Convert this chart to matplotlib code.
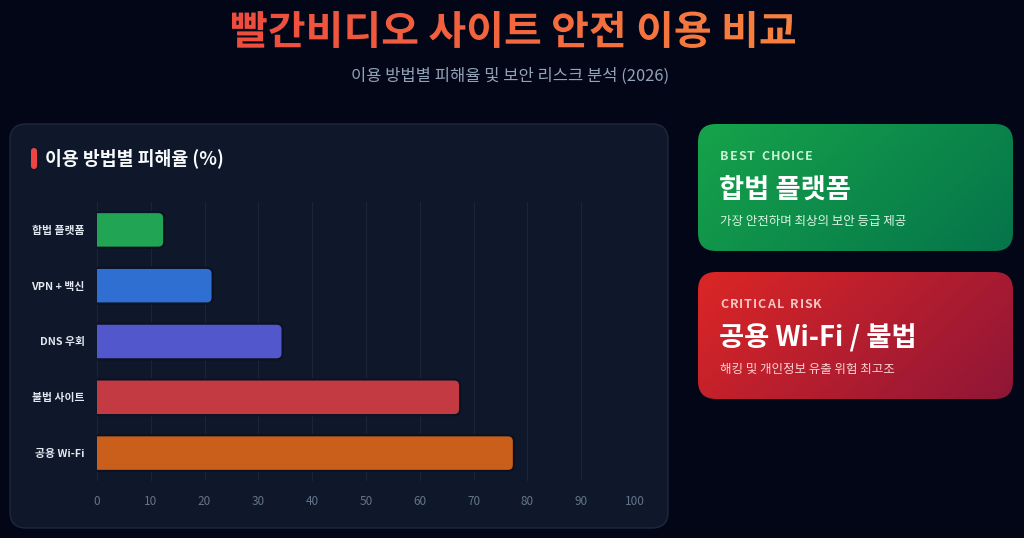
"""빨간비디오 사이트 안전 이용 비교 - dark dashboard recreation."""
import matplotlib
matplotlib.use('Agg')
import matplotlib.pyplot as plt
import numpy as np
from matplotlib.patches import FancyBboxPatch, PathPatch
from matplotlib.textpath import TextPath
from matplotlib.font_manager import FontProperties
from matplotlib.colors import LinearSegmentedColormap
from matplotlib.transforms import Affine2D

plt.rcParams['font.family'] = ['Noto Sans CJK KR', 'DejaVu Sans']

# Data
methods = ['합법 플랫폼', 'VPN + 백신', 'DNS 우회', '불법 사이트', '공용 Wi-Fi']
damage_rate = [12.5, 21.5, 34.5, 67.5, 77.5]
bar_colors = ['#21a453', '#2f6fd2', '#5257cc', '#c43a43', '#c95f1a']
x_ticks = [0, 10, 20, 30, 40, 50, 60, 70, 80, 90, 100]

title = '빨간비디오 사이트 안전 이용 비교'
subtitle = '이용 방법별 피해율 및 보안 리스크 분석 (2026)'
panel_title = '이용 방법별 피해율 (%)'
cards = [
    ('BEST CHOICE', '합법 플랫폼', '가장 안전하며 최상의 보안 등급 제공',
     ('#16a34a', '#05744a'), '#c8f0d4', '#dcf5e4'),
    ('CRITICAL RISK', '공용 Wi-Fi / 불법', '해킹 및 개인정보 유출 위험 최고조',
     ('#dc2626', '#8f1637'), '#f8c4c4', '#fbd3d3'),
]

W, H = 1024, 538
BG = '#020617'
PANEL = '#0f172a'

fig = plt.figure(figsize=(W / 100, H / 100), dpi=100, facecolor=BG)
bg = fig.add_axes([0, 0, 1, 1])
bg.set_xlim(0, W)
bg.set_ylim(H, 0)
bg.axis('off')


def gradient_fill(ax, clip, x0, y0, x1, y1, c0, c1, angle=True):
    cmap = LinearSegmentedColormap.from_list('g', [c0, c1])
    xx, yy = np.meshgrid(np.linspace(0, 1, 200), np.linspace(0, 1, 100))
    z = (xx * 0.7 + yy * 0.3) if angle else xx
    im = ax.imshow(z, cmap=cmap, extent=(x0, x1, y1, y0), origin='upper',
                   aspect='auto', zorder=2, interpolation='bilinear')
    im.set_clip_path(clip)


def spaced_text(ax, x, y, s, size_pt, color, spacing=1.6):
    # letter-spaced label, one glyph at a time (x, y in pixels)
    fp_b = FontProperties(family='Noto Sans CJK KR', weight='bold')
    size_px = size_pt * 100 / 72
    for ch in s:
        ax.text(x, y, ch, ha='left', va='center', fontsize=size_pt,
                fontweight='bold', color=color, zorder=3)
        if ch == ' ':
            adv = size_px * 0.26
        else:
            adv = TextPath((0, 0), ch, size=size_px, prop=fp_b).get_extents().x1
        x += adv + spacing


# Title with gradient (condensed heavy text)
fp = FontProperties(family='Noto Sans CJK KR', weight='black')
tp = TextPath((0, 0), title, size=100, prop=fp)
ext = tp.get_extents()
tx0, tx1, ty0, ty1 = 232, 795, 11, 48
sx = (tx1 - tx0) / ext.width
sy = (ty1 - ty0) / ext.height
tr = Affine2D().translate(-ext.x0, -ext.y1).scale(sx, -sy).translate(tx0, ty0)
tpath = tr.transform_path(tp)
tpatch = PathPatch(tpath, facecolor='none', edgecolor='none', transform=bg.transData)
bg.add_patch(tpatch)
gradient_fill(bg, tpatch, tx0, ty0, tx1, ty1, '#ef4c3e', '#f8823f', angle=False)

bg.text(510, 76, subtitle, ha='center', va='center', fontsize=11.9, color='#94a3b8')

# Left panel
panel = FancyBboxPatch((10, 124), 658, 404, boxstyle='round,pad=0,rounding_size=16',
                       facecolor=PANEL, edgecolor='#1e293b', linewidth=1, zorder=1)
bg.add_patch(panel)
accent = FancyBboxPatch((31, 148), 6, 21, boxstyle='round,pad=0,rounding_size=3',
                        facecolor='#ef4444', edgecolor='none', zorder=3)
bg.add_patch(accent)
bg.text(45, 158, panel_title, ha='left', va='center', fontsize=13.2,
        fontweight='bold', color='#f8fafc', zorder=3)

# Right cards
card_y = [124, 272]
for (label, head, sub, (c0, c1), lc, sc), cy in zip(cards, card_y):
    card = FancyBboxPatch((698, cy), 315, 127, boxstyle='round,pad=0,rounding_size=18',
                          facecolor='none', edgecolor='none', zorder=2)
    bg.add_patch(card)
    gradient_fill(bg, card, 698, cy, 1013, cy + 127, c0, c1)
    spaced_text(bg, 720, cy + 32, label, 9, lc)
    bg.text(719, cy + 66, head, ha='left', va='center', fontsize=19.7,
            fontweight='bold', color='white', zorder=3)
    bg.text(720, cy + 97.5, sub, ha='left', va='center', fontsize=9,
            color=sc, zorder=3)

# Bar chart
ax_l, ax_r, ax_t, ax_b = 97, 635, 202, 481
ax = fig.add_axes([ax_l / W, (H - ax_b) / H, (ax_r - ax_l) / W, (ax_b - ax_t) / H])
ax.set_facecolor('none')
ax.set_xlim(0, 100)
ax.set_ylim(len(methods) - 0.5, -0.5)

bar_h = 0.64
bars = ax.barh(range(len(methods)), damage_rate, height=bar_h, color='none')
px_x = (ax_r - ax_l) / 100
px_y = (ax_b - ax_t) / len(methods)
r_px = 6
for b, c in zip(bars, bar_colors):
    x, y, w, h = b.get_x(), b.get_y(), b.get_width(), b.get_height()
    rect = FancyBboxPatch((x - 5, y), w + 5, h,
                          boxstyle=f'round,pad=0,rounding_size={r_px / px_x}',
                          mutation_aspect=px_x / px_y, facecolor=c,
                          edgecolor='#0b1222', linewidth=1.6, zorder=3)
    ax.add_patch(rect)
    rect.set_clip_path(ax.patch)

ax.set_xticks(x_ticks)
ax.set_yticks(range(len(methods)))
ax.set_yticklabels(methods, fontsize=7.8, fontweight='bold', color='#e2e8f0')
ax.tick_params(axis='x', colors='#64748b', labelsize=8.5, length=0, pad=10)
ax.tick_params(axis='y', length=0, pad=9)
ax.grid(axis='x', color='#1c2537', linewidth=0.8)
ax.set_axisbelow(True)
for s in ax.spines.values():
    s.set_visible(False)

plt.savefig('out.png', dpi=100, facecolor=BG)
